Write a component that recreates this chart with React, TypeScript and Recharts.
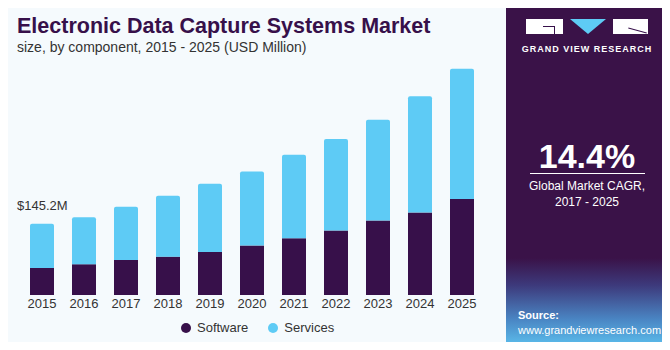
import React from "react"
import { BarChart, Bar, XAxis, YAxis, LabelList } from "recharts"

const years = ["2015", "2016", "2017", "2018", "2019", "2020", "2021", "2022", "2023", "2024", "2025"]
const software = [55.2, 62.8, 71.6, 78.3, 88.0, 100.8, 115.9, 131.5, 152.0, 168.3, 195.7]
const services = [90.0, 96.1, 108.4, 124.2, 139.0, 151.4, 170.4, 186.9, 205.9, 237.2, 265.9]
const firstLabel = "$145.2M"

const series = [
  { key: "software", name: "Software", color: "#37104a" },
  { key: "services", name: "Services", color: "#5ecbf5" },
]

const data = years.map((year, i) => ({
  year,
  software: software[i],
  services: services[i],
}))

const FONT = "'Liberation Sans', Arial, sans-serif"

function FirstLabel(props: any) {
  const { x, y, index } = props
  if (index !== 0) return null
  return (
    <text x={x - 13} y={y - 14} fill="#333" fontSize={13} fontFamily={FONT}>
      {firstLabel}
    </text>
  )
}

// logo blocks, plain divs
function Logo() {
  const box = (left: number, width: number) => ({
    position: "absolute" as const,
    left,
    top: 19,
    width,
    height: 15,
    background: "#ffffff",
  })
  return (
    <>
      <div style={box(526, 37)} />
      <div style={{ position: "absolute", left: 543, top: 26, width: 12, height: 1, background: "#37104a" }} />
      <div style={{ position: "absolute", left: 554, top: 26, width: 1, height: 8, background: "#37104a" }} />
      <div
        style={{
          position: "absolute",
          left: 570,
          top: 19,
          width: 0,
          height: 0,
          borderLeft: "18px solid transparent",
          borderRight: "18px solid transparent",
          borderTop: "15px solid #5ecbf5",
        }}
      />
      <div style={box(613, 35)} />
      <div
        style={{
          position: "absolute",
          left: 628,
          top: 30,
          width: 19,
          height: 1,
          background: "#37104a",
          transform: "rotate(15deg)",
        }}
      />
    </>
  )
}

export default function App() {
  return (
    <div
      style={{
        position: "relative",
        width: 670,
        height: 350,
        background: "#f5fafd",
        fontFamily: FONT,
        overflow: "hidden",
        margin: -8,
      }}
    >
      <div style={{ position: "absolute", left: 0, top: 0, width: 670, height: 5, background: "#5bc8f0" }} />
      <div style={{ position: "absolute", left: 0, top: 0, width: 2, height: 350, background: "#cfcfcf" }} />
      <div style={{ position: "absolute", left: 0, top: 347, width: 670, height: 3, background: "#d0d0d0" }} />

      <div
        style={{
          position: "absolute",
          left: 17,
          top: 14,
          fontSize: 21.5,
          fontWeight: 900,
          color: "#37104a",
          whiteSpace: "nowrap",
        }}
      >
        Electronic Data Capture Systems Market
      </div>
      <div style={{ position: "absolute", left: 17, top: 39, fontSize: 14, color: "#333", whiteSpace: "nowrap" }}>
        size, by component, 2015 - 2025 (USD Million)
      </div>

      <div style={{ position: "absolute", left: 0, top: 0 }}>
        <BarChart width={506} height={350} data={data} margin={{ top: 50, right: 23, bottom: 25, left: 21 }}>
          <XAxis
            dataKey="year"
            axisLine={false}
            tickLine={false}
            tickSize={0}
            tickMargin={4}
            height={30}
            interval={0}
            tick={{ fontSize: 13, fill: "#333", fontFamily: FONT }}
          />
          <YAxis hide domain={[0, 500]} />
          <Bar dataKey="software" stackId="a" fill={series[0].color} barSize={24} isAnimationActive={false} />
          <Bar
            dataKey="services"
            stackId="a"
            fill={series[1].color}
            barSize={24}
            radius={[2, 2, 0, 0]}
            isAnimationActive={false}
          >
            <LabelList dataKey="services" content={<FirstLabel />} />
          </Bar>
        </BarChart>
      </div>

      <div
        style={{
          position: "absolute",
          left: 181,
          top: 320,
          display: "flex",
          alignItems: "center",
          fontSize: 13,
          color: "#333",
        }}
      >
        {series.map((s, i) => (
          <div key={s.key} style={{ display: "flex", alignItems: "center", marginRight: i === 0 ? 20 : 0 }}>
            <span
              style={{ width: 10, height: 10, borderRadius: 5, background: s.color, display: "inline-block", marginRight: 6 }}
            />
            <span>{s.name}</span>
          </div>
        ))}
      </div>

      <div
        style={{
          position: "absolute",
          left: 506,
          top: 5,
          width: 162,
          height: 342,
          background: "linear-gradient(to bottom, #3a1248 0%, #3a1248 74%, #3d3a7c 82%, #4a86c4 92%, #5cc0ee 100%)",
        }}
      />
      <Logo />
      <div
        style={{
          position: "absolute",
          left: 506,
          top: 44,
          width: 162,
          textAlign: "center",
          fontSize: 9,
          fontWeight: 700,
          color: "#fff",
          letterSpacing: 1,
        }}
      >
        GRAND VIEW RESEARCH
      </div>
      <div
        style={{
          position: "absolute",
          left: 506,
          top: 137,
          width: 162,
          textAlign: "center",
          fontSize: 34,
          fontWeight: 700,
          color: "#fff",
        }}
      >
        14.4%
      </div>
      <div style={{ position: "absolute", left: 530, top: 173, width: 115, height: 1, background: "#fff" }} />
      <div
        style={{
          position: "absolute",
          left: 506,
          top: 178,
          width: 162,
          textAlign: "center",
          fontSize: 12,
          color: "#fff",
          lineHeight: "16px",
        }}
      >
        Global Market CAGR,
        <br />
        2017 - 2025
      </div>
      <div style={{ position: "absolute", left: 518, top: 308, fontSize: 11, color: "#fff", lineHeight: "15px" }}>
        <b>Source:</b>
        <br />
        www.grandviewresearch.com
      </div>
    </div>
  )
}
